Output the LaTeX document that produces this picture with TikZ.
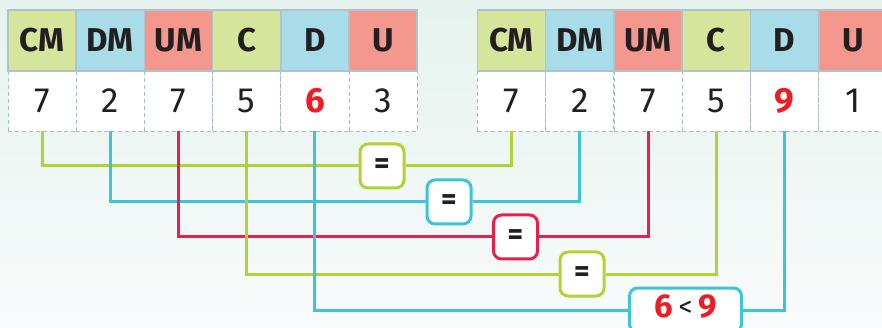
\documentclass[tikz,border=0pt]{standalone}
\usepackage{fontspec}
\setmainfont{Fira Sans}
\definecolor{ink}{HTML}{231F20}
\definecolor{gridline}{HTML}{AFC3CB}
\definecolor{dashline}{HTML}{A9BAC2}
\definecolor{hgreen}{HTML}{D5E59B}
\definecolor{hblue}{HTML}{A8DCE8}
\definecolor{hred}{HTML}{F4978E}
\definecolor{lgreen}{HTML}{B3D236}
\definecolor{lblue}{HTML}{3CC4DA}
\definecolor{lred}{HTML}{E8204C}
\definecolor{numred}{HTML}{EE1C25}
\definecolor{bgtop}{HTML}{E6F2EE}
\definecolor{bgbot}{HTML}{F8FBFB}
\begin{document}
\begin{tikzpicture}[x=1pt,y=-1pt,
  hcell/.style={draw=gridline, line width=1.6pt, minimum width=68.2pt, minimum height=61pt,
    inner sep=0pt, text=ink, font=\fontsize{33}{33}\selectfont\bfseries},
  vcell/.style={draw=dashline, dash pattern=on 4pt off 3pt, line width=0.8pt, fill=white,
    minimum width=68.2pt, minimum height=60pt, inner sep=0pt, text=ink,
    font=\fontsize{35}{35}\selectfont},
  cmpbox/.style={draw=#1, line width=3pt, rounded corners=8pt, fill=white,
    minimum width=44pt, minimum height=44pt, inner sep=0pt, text=ink,
    font=\fontsize{30}{30}\selectfont\bfseries},
  link/.style={draw=#1, line width=3pt},
]
\useasboundingbox (0,0) rectangle (882,328);
\clip (0,0) rectangle (882,328);
\shade[top color=bgtop, bottom color=bgbot] (0,0) rectangle (882,328);

% left number: 727 563
\foreach \v [count=\i] in {7,2,7,5,{\textcolor{numred}{\bfseries 6}},3}
  \node[vcell] (L\i) at ({8+68.2*(\i-0.5)},101) {\v};
\foreach \lab/\col [count=\i] in {CM/hgreen,DM/hblue,UM/hred,C/hgreen,D/hblue,U/hred}
  \node[hcell, fill=\col] (Lh\i) at ({8+68.2*(\i-0.5)},40.5) {\lab};

% right number: 727 591
\foreach \v [count=\i] in {7,2,7,5,{\textcolor{numred}{\bfseries 9}},1}
  \node[vcell] (R\i) at ({477.3+68.3*(\i-0.5)},101) {\v};
\foreach \lab/\col [count=\i] in {CM/hgreen,DM/hblue,UM/hred,C/hgreen,D/hblue,U/hred}
  \node[hcell, fill=\col, minimum width=68.3pt] (Rh\i) at ({477.3+68.3*(\i-0.5)},40.5) {\lab};

% comparison boxes
\node[cmpbox=lgreen] (b1) at (382,166) {=};
\node[cmpbox=lblue]  (b2) at (449,202) {=};
\node[cmpbox=lred]   (b3) at (515.5,237) {=};
\node[cmpbox=lgreen] (b4) at (582,274) {=};
\node[cmpbox=lblue, minimum width=112pt, minimum height=44pt] (b5) at (685.5,310) {};
\node[inner sep=0pt, text=ink, font=\fontsize{33}{33}\selectfont] (b5t) at ([yshift=3pt]b5.center)
  {\textcolor{numred}{\bfseries 6}\,\raisebox{1pt}{\fontsize{28}{28}\selectfont<}\,\textcolor{numred}{\bfseries 9}};

% digit-by-digit links
\draw[link=lgreen] (L1.south) |- (b1.west);
\draw[link=lgreen] (b1.east) -| (R1.south);
\draw[link=lblue]  (L2.south) |- (b2.west);
\draw[link=lblue]  (b2.east) -| (R2.south);
\draw[link=lred]   (L3.south) |- (b3.west);
\draw[link=lred]   (b3.east) -| (R3.south);
\draw[link=lgreen] (L4.south) |- (b4.west);
\draw[link=lgreen] (b4.east) -| (R4.south);
\draw[link=lblue]  (L5.south) |- (b5.west);
\draw[link=lblue]  (b5.east) -| (R5.south);
\end{tikzpicture}
\end{document}
